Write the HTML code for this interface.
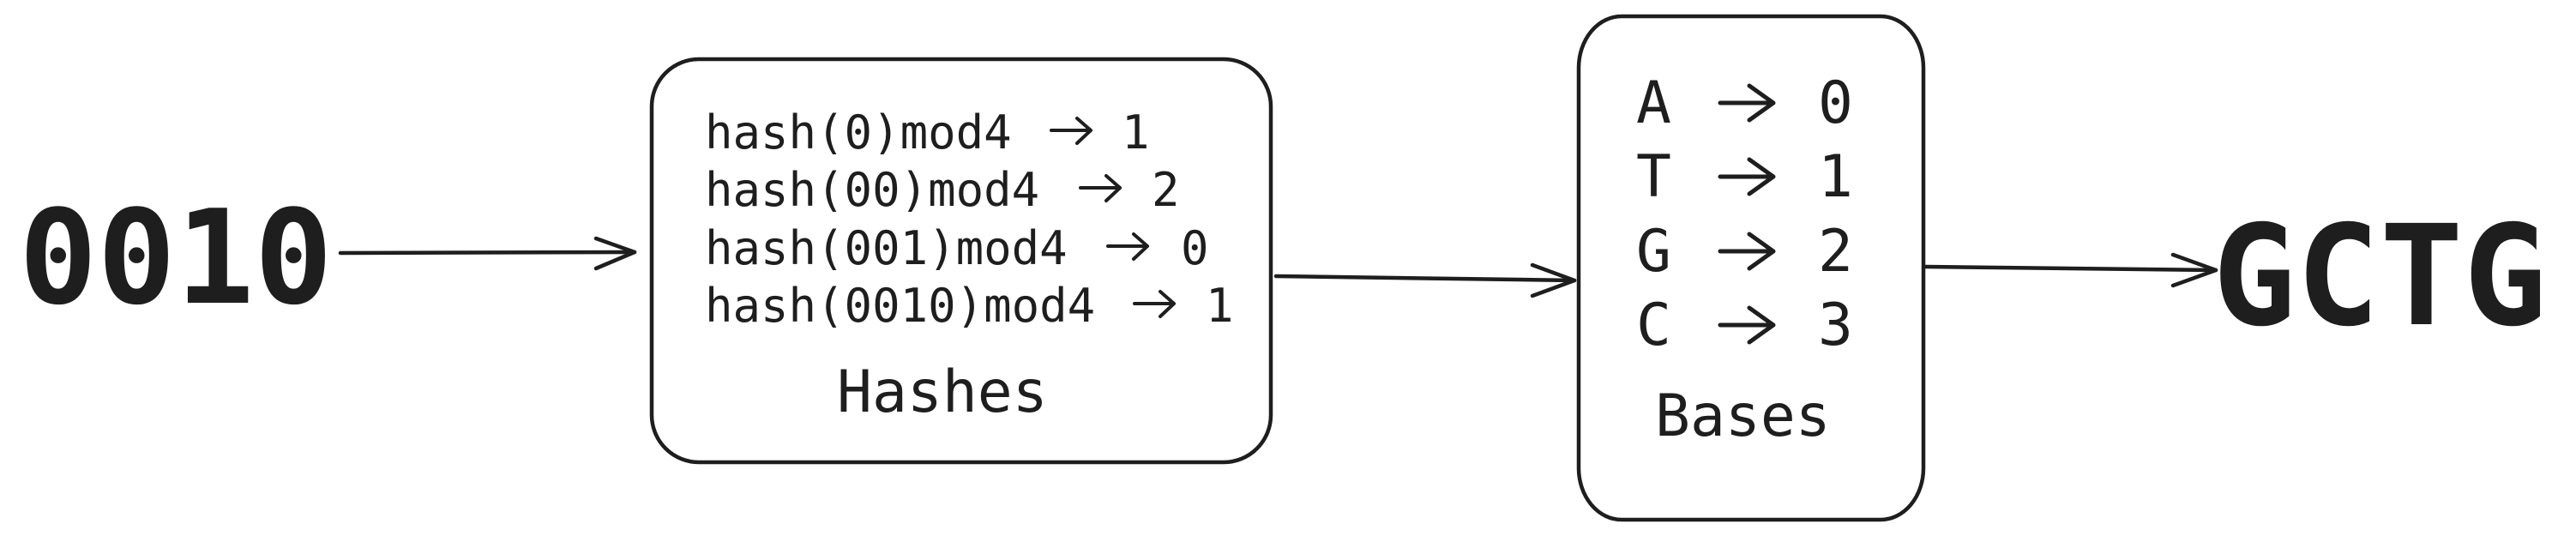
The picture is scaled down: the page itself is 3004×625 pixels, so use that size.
<!DOCTYPE html>
<html><head><meta charset="utf-8"><style>
html,body{margin:0;padding:0;background:#fff;}
svg{display:block;}
text{font-family:"DejaVu Sans Mono","Liberation Mono",monospace;fill:#1e1e1e;}
</style></head><body>
<svg width="3004" height="625" viewBox="0 0 3004 625" xmlns="http://www.w3.org/2000/svg">
<g fill="none" stroke="#1e1e1e" stroke-width="4.5" stroke-linecap="round" stroke-linejoin="round">
  <rect x="760" y="69" width="722" height="470" rx="55" ry="55"/>
  <rect x="1841" y="19" width="402" height="587" rx="50" ry="60"/>
  <!-- arrow 1 -->
  <path d="M397 295 L740 294"/>
  <path d="M695 278 L740 294 L695 313"/>
  <!-- arrow 2 -->
  <path d="M1488 322 L1836 327"/>
  <path d="M1787 309 L1836 327 L1787 345"/>
  <!-- arrow 3 -->
  <path d="M2246 311 L2584 315"/>
  <path d="M2534 297 L2584 315 L2534 333"/>
  <!-- hash arrows -->
  <g stroke-width="4">
    <path d="M1226 152 L1272 152 M1256 138 L1272 152 L1256 167"/>
    <path d="M1260 219 L1306 219 M1290 205 L1306 219 L1290 234"/>
    <path d="M1292 287 L1338 287 M1322 273 L1338 287 L1322 302"/>
    <path d="M1323 354 L1369 354 M1353 340 L1369 354 L1353 369"/>
  </g>
  <!-- base arrows -->
  <g stroke-width="5">
    <path d="M2006 120 L2068 120 M2040 100 L2068 120 L2040 140"/>
    <path d="M2006 206 L2068 206 M2040 186 L2068 206 L2040 226"/>
    <path d="M2006 293 L2068 293 M2040 273 L2068 293 L2040 313"/>
    <path d="M2006 379 L2068 379 M2040 359 L2068 379 L2040 399"/>
  </g>
</g>
<text x="22" y="353" font-size="152" font-weight="bold">0010</text>
<text x="2580" y="378" font-size="162" font-weight="bold">GCTG</text>
<g font-size="54">
  <text x="822" y="173">hash(0)mod4</text><text x="1308" y="173">1</text>
  <text x="822" y="240">hash(00)mod4</text><text x="1343" y="240">2</text>
  <text x="822" y="308">hash(001)mod4</text><text x="1377" y="308">0</text>
  <text x="822" y="375">hash(0010)mod4</text><text x="1406" y="375">1</text>
</g>
<text x="976" y="480" font-size="68">Hashes</text>
<g font-size="68">
  <text x="1908" y="143">A</text><text x="2120" y="143">0</text>
  <text x="1908" y="229">T</text><text x="2120" y="229">1</text>
  <text x="1908" y="316">G</text><text x="2120" y="316">2</text>
  <text x="1908" y="402">C</text><text x="2120" y="402">3</text>
</g>
<text x="1930" y="508" font-size="68">Bases</text>
</svg>
</body></html>
